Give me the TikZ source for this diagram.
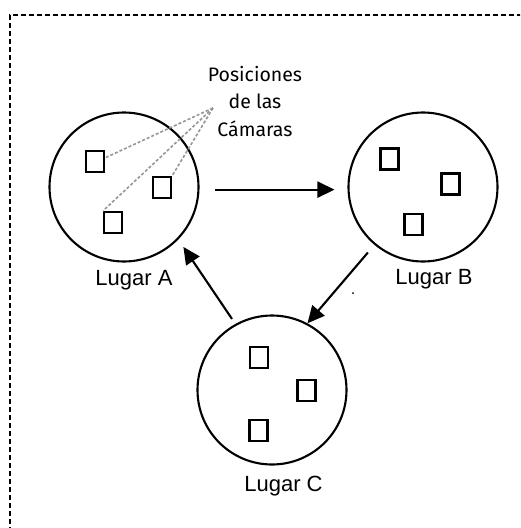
\documentclass[tikz,border=0pt]{standalone}
\usepackage{fontspec}
\setmainfont{Liberation Sans}
\newfontfamily\firafont{Fira Sans}
\usetikzlibrary{arrows.meta}
\definecolor{dashgray}{RGB}{150,150,150}
\begin{document}
\begin{tikzpicture}[x=1pt,y=-1pt,
  place/.style={circle,draw,line width=2.1pt,minimum size=149pt,inner sep=0pt},
  cam/.style={rectangle,draw,line width=2.1pt,minimum width=18pt,minimum height=21pt,inner sep=0pt},
  flow/.style={line width=2.1pt,-{Triangle[length=17pt,width=16pt]}},
  camline/.style={dashgray,line width=1.6pt,dash pattern=on 3pt off 2pt},
  lbl/.style={font=\fontsize{22}{26}\selectfont,anchor=base,inner sep=0pt},
  frame/.style={line width=2.4pt,dash pattern=on 5pt off 3pt}]
\useasboundingbox (0,0) rectangle (520,528);
\clip (0,0) rectangle (520,528);
\fill[white] (0,0) rectangle (520,528);
\draw[frame] (530,15) -- (10,15) -- (10,540);

\node[place] (A) at (124,187) {};
\node[place] (B) at (423,187) {};
\node[place] (C) at (272,390) {};

\node[cam] (a1) at (95,161.5) {};
\node[cam] (a2) at (162,187.5) {};
\node[cam] (a3) at (113,222.5) {};
\node[cam] (b1) at (389.5,159) {};
\node[cam] (b2) at (450.5,184) {};
\node[cam] (b3) at (413.5,224.5) {};
\node[cam] (c1) at (259,357.5) {};
\node[cam] (c2) at (306.5,390.5) {};
\node[cam] (c3) at (258.5,430.5) {};

\node[lbl] (la) at (134,285) {Lugar A};
\node[lbl] (lb) at (434,284) {Lugar B};
\node[lbl] (lc) at (283.5,491) {Lugar C};

\node[font=\firafont\fontsize{19.5}{27.5}\selectfont,align=center,anchor=base,inner sep=0pt] (pos) at (255,136) {Posiciones\\de las\\Cámaras};

\coordinate (conv) at (213,108);
\draw[camline] (conv) -- (a1.20);
\draw[camline] (conv) -- (a2.north east);
\draw[camline] (conv) -- (a3.north west);

\draw[flow,shorten <=15pt,shorten >=13pt] (A.358) -- (B.182);
\draw[flow,shorten <=10pt] (B.230) -- (C.62);
\draw[flow,shorten <=6pt,shorten >=9pt] (C.119) -- (A.316);

\fill (353,293) circle (1pt);
\end{tikzpicture}
\end{document}
